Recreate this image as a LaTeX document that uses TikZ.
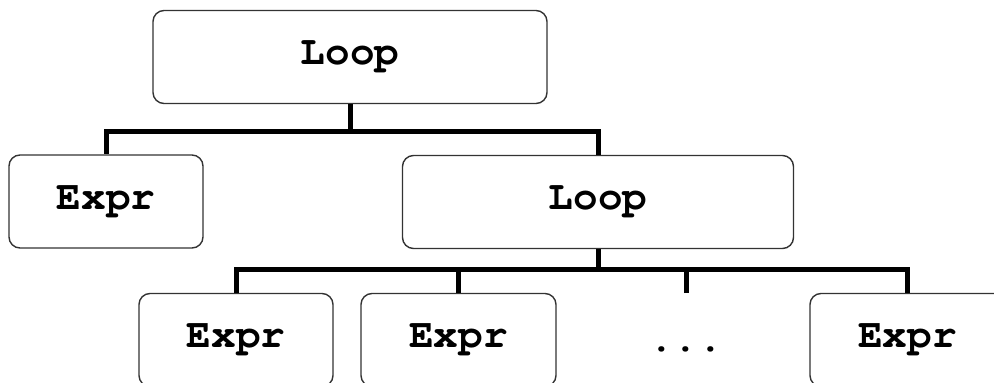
\documentclass[tikz,border=0pt]{standalone}
\usepackage{fontspec}
\newfontfamily\codefont{TeX Gyre Cursor}
\begin{document}
\begin{tikzpicture}[x=1pt,y=-1pt,
  box/.style={draw=black!80, line width=1.4pt, rounded corners=11pt, fill=white,
    inner sep=0pt, minimum height=93pt,
    font=\codefont\bfseries\fontsize{41}{44}\selectfont},
  plain/.style={inner sep=0pt, anchor=base, font=\codefont\bfseries\fontsize{41}{44}\selectfont},
  conn/.style={line width=5pt, line join=miter, line cap=butt}]
\useasboundingbox (0,0) rectangle (994,383);
\clip (0,0) rectangle (994,383);
% nodes
\node[box, minimum width=394pt] (top) at (350,57) {Loop};
\node[box, minimum width=194pt] (e1) at (106,201.5) {Expr};
\node[box, minimum width=391pt] (loop2) at (598,202) {Loop};
\node[box, minimum width=194pt] (b1) at (236,340) {Expr};
\node[box, minimum width=195pt] (b2) at (458.5,340) {Expr};
\node[plain] (dots) at (686,351) {...};
\node[box, minimum width=195pt] (b4) at (907.5,340) {Expr};
\coordinate (dtop) at (686,293);
% connectors
\draw[conn] (top.south) -- ++(0,27) -| (e1.north);
\draw[conn] (top.south) ++(0,27) -| (loop2.north);
\draw[conn] (loop2.south) -- ++(0,20) -| (b1.north);
\draw[conn] (loop2.south) ++(0,20) -| (b4.north);
\draw[conn] (b2.north) -- (b2.north |- 0,268);
\draw[conn] (dtop) -- (dtop |- 0,268);
\end{tikzpicture}
\end{document}
